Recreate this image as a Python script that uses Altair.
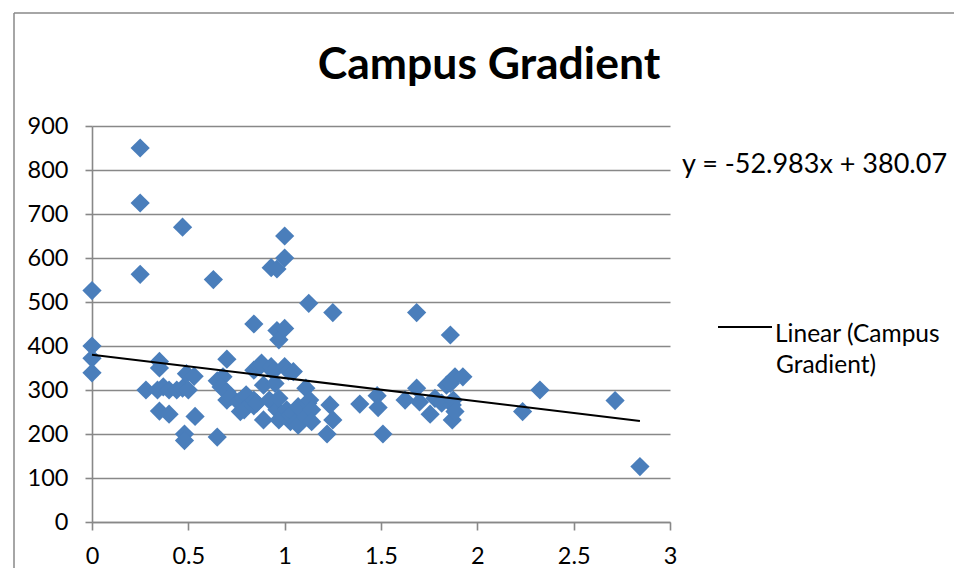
import altair as alt
import pandas as pd

# Campus Gradient scatter data (x, y)
xs = [0.00, 0.00, 0.00, 0.00,
      0.25, 0.25, 0.25,
      0.28, 0.34, 0.35, 0.35, 0.35, 0.37,
      0.40, 0.40, 0.44, 0.47, 0.47, 0.49, 0.50, 0.53, 0.535, 0.48, 0.48,
      0.63, 0.65, 0.65, 0.68, 0.67, 0.70, 0.70, 0.70, 0.72, 0.76, 0.785, 0.77,
      0.80, 0.79, 0.84, 0.84, 0.84, 0.84, 0.855, 0.87, 0.88, 0.89, 0.89,
      0.92, 0.93, 0.93, 0.94, 0.95, 0.96, 0.96, 0.96, 0.97, 0.97, 0.97,
      1.00, 1.00, 1.00, 1.00, 1.01, 1.02, 1.03, 1.03, 1.045, 1.045, 1.06, 1.07, 1.07,
      1.11, 1.11, 1.125, 1.12, 1.13, 1.14, 1.14,
      1.22, 1.235, 1.25, 1.25,
      1.39, 1.48, 1.485, 1.51,
      1.625, 1.685, 1.685, 1.70, 1.755, 1.78, 1.815,
      1.84, 1.86, 1.86, 1.87, 1.87, 1.875, 1.884, 1.884, 1.925,
      2.235, 2.325, 2.715, 2.844]
ys = [526, 400, 372, 339,
      850, 725, 563,
      300, 300, 365, 350, 252, 307,
      300, 245, 300, 304, 670, 337, 300, 331, 240, 200, 185,
      551, 193, 321, 330, 307, 370, 296, 277, 285, 273, 281, 251,
      289, 255, 450, 345, 277, 264, 270, 353, 361, 311, 232,
      277, 578, 353, 342, 315, 575, 435, 255, 414, 232, 281,
      650, 600, 440, 353, 255, 343, 228, 243, 342, 247, 228, 262, 220,
      304, 239, 497, 270, 277, 255, 228,
      200, 266, 476, 232,
      268, 287, 260, 200,
      277, 476, 304, 273, 245, 281, 270,
      311, 425, 315, 232, 266, 277, 330, 251, 330,
      251, 300, 276, 126]

# Trend line coefficients as printed on the chart
SLOPE = -52.983
INTERCEPT = 380.07

TITLE = "Campus Gradient"
EQUATION = "y = -52.983x + 380.07"
LEGEND_LINES = ["Linear (Campus", "Gradient)"]

x_ticks = [0, 0.5, 1, 1.5, 2, 2.5, 3]
y_ticks = [0, 100, 200, 300, 400, 500, 600, 700, 800, 900]

pts = pd.DataFrame({"x": xs, "y": ys})
trend_x = [min(xs), max(xs)]
trend = pd.DataFrame({"x": trend_x, "y": [INTERCEPT + SLOPE * v for v in trend_x]})

FONT = "Lato"
GRAY = "#888888"

xscale = alt.Scale(domain=[0, 3], nice=False, zero=False)
yscale = alt.Scale(domain=[0, 900], nice=False)

xaxis = alt.Axis(values=x_ticks, format="~g", grid=False, domainColor=GRAY, domainWidth=1.6,
                 tickColor=GRAY, tickWidth=1.6, tickSize=8, labelFont=FONT, labelFontSize=23.5,
                 labelColor="black", labelPadding=14, title=None, labelFlush=False)
yaxis = alt.Axis(values=y_ticks, grid=True, gridColor=GRAY, gridWidth=1.6,
                 domainColor=GRAY, domainWidth=1.6, tickColor=GRAY, tickWidth=1.6, tickSize=7,
                 labelFont=FONT, labelFontSize=23.5, labelColor="black", labelPadding=17,
                 title=None, labelFlush=False)

points = alt.Chart(pts).mark_point(shape="diamond", filled=True, size=370, opacity=1,
                                   color="#4A7EBB").encode(
    x=alt.X("x:Q", scale=xscale, axis=xaxis),
    y=alt.Y("y:Q", scale=yscale, axis=yaxis),
)

line = alt.Chart(trend).mark_line(color="black", strokeWidth=2).encode(
    x=alt.X("x:Q", scale=xscale),
    y=alt.Y("y:Q", scale=yscale),
)

title = alt.Chart(pd.DataFrame({"t": [TITLE]})).mark_text(
    font=FONT, fontSize=44.5, fontWeight="bold", color="black", align="center", baseline="alphabetic"
).encode(x=alt.value(397), y=alt.value(-47), text="t:N")

equation = alt.Chart(pd.DataFrame({"t": [EQUATION]})).mark_text(
    font=FONT, fontSize=27, color="black", align="left", baseline="alphabetic"
).encode(x=alt.value(590), y=alt.value(47), text="t:N")

leg1 = alt.Chart(pd.DataFrame({"t": [LEGEND_LINES[0]]})).mark_text(
    font=FONT, fontSize=24.5, color="black", align="left", baseline="alphabetic"
).encode(x=alt.value(683), y=alt.value(216), text="t:N")
leg2 = alt.Chart(pd.DataFrame({"t": [LEGEND_LINES[1]]})).mark_text(
    font=FONT, fontSize=24.5, color="black", align="left", baseline="alphabetic"
).encode(x=alt.value(684), y=alt.value(247), text="t:N")
leg_line = alt.Chart(pd.DataFrame({"t": ["Linear"]})).mark_rule(color="black", strokeWidth=2).encode(
    x=alt.value(626), x2=alt.value(680), y=alt.value(201))

border_left = alt.Chart(pd.DataFrame({"t": ["b"]})).mark_rule(color=GRAY, strokeWidth=1.5).encode(
    x=alt.value(-78), y=alt.value(-113), y2=alt.value(460))
border_top = alt.Chart(pd.DataFrame({"t": ["b"]})).mark_rule(color=GRAY, strokeWidth=1.5).encode(
    x=alt.value(-78), x2=alt.value(870), y=alt.value(-113))

chart = alt.layer(border_left, border_top, points, line, title, equation, leg_line, leg1, leg2).properties(
    width=578, height=396,
    padding={"left": 84, "top": 118, "right": 284, "bottom": 46},
    autosize=alt.AutoSizeParams(type="none"),
    background="white",
).configure_view(strokeWidth=0)

chart.save("out.html", embed_options={"renderer": "svg", "actions": False})
